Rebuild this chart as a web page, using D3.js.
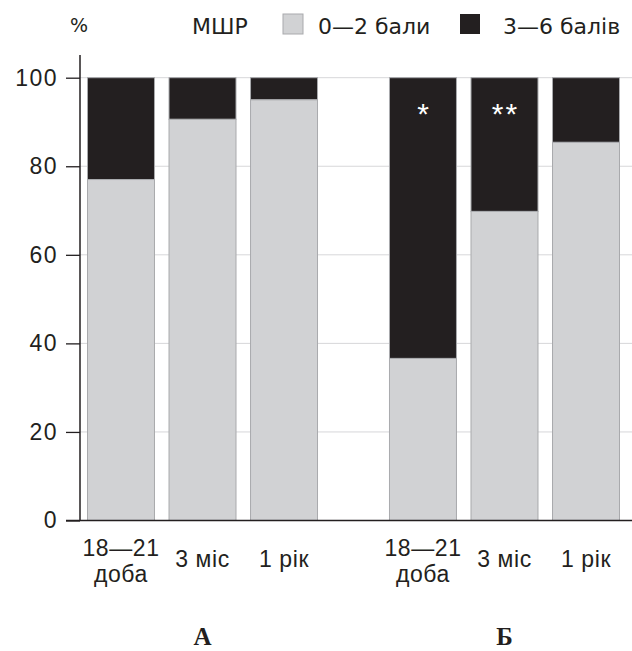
<!DOCTYPE html>
<html><head><meta charset="utf-8">
<script src="https://cdn.jsdelivr.net/npm/d3@7"></script>
<style>body{margin:0;background:#fff}svg{display:block}</style>
</head><body>
<script>
const groups = ["А", "Б"];
const periods = ["18—21 доба", "3 міс", "1 рік"];
const lowScore = [[77.0, 90.6, 95.0], [36.6, 69.8, 85.4]]; // 0—2 бали, %
const marks = [["", "", ""], ["*", "**", ""]];
const yTicks = [0, 20, 40, 60, 80, 100];
const legendLabels = ["0—2 бали", "3—6 балів"];

const W = 632, H = 651;
const svg = d3.select("body").append("svg").attr("width", W).attr("height", H);
const light = "#d1d2d4", dark = "#231f20", edge = "#a9aaad";
const tickFont = "Liberation Sans, Arial, sans-serif";
const legFont = "DejaVu Sans, sans-serif";

const y = d3.scaleLinear().domain([0, 100]).range([520.5, 77.7]);
const xg = d3.scaleBand().domain(groups).range([87, 620]).paddingInner(0.235).paddingOuter(0);
const xp = d3.scaleBand().domain(periods).range([0, xg.bandwidth()]).paddingInner(0.166).paddingOuter(0);

// gridlines
svg.append("g").selectAll("line").data(yTicks.filter(d => d > 0)).join("line")
  .attr("x1", 80).attr("x2", W).attr("y1", d => y(d)).attr("y2", d => y(d))
  .attr("stroke", "#d7d7d9").attr("stroke-width", 1);

// bars
const rows = [];
groups.forEach((g, gi) => periods.forEach((p, pi) => rows.push({g, p, v: lowScore[gi][pi], m: marks[gi][pi]})));
const bars = svg.append("g");
bars.selectAll("rect.dark").data(rows).join("rect").attr("class", "dark")
  .attr("x", d => xg(d.g) + xp(d.p) + 0.5).attr("width", xp.bandwidth() - 1)
  .attr("y", y(100)).attr("height", d => y(d.v) - y(100))
  .attr("fill", dark).attr("stroke", edge).attr("stroke-width", 1);
bars.selectAll("rect.light").data(rows).join("rect").attr("class", "light")
  .attr("x", d => xg(d.g) + xp(d.p) + 0.5).attr("width", xp.bandwidth() - 1)
  .attr("y", d => y(d.v)).attr("height", d => y(0) - y(d.v))
  .attr("fill", light).attr("stroke", edge).attr("stroke-width", 1);
bars.selectAll("text.mark").data(rows.filter(d => d.m)).join("text")
  .attr("x", d => xg(d.g) + xp(d.p) + xp.bandwidth() / 2 + 1).attr("y", y(100) + 46)
  .attr("text-anchor", "middle").attr("fill", "#fff").attr("letter-spacing", 2)
  .attr("font-family", tickFont).attr("font-size", 30).text(d => d.m);

// y axis
const yAxis = svg.append("g").attr("transform", "translate(80,0)")
  .call(d3.axisLeft(y).tickValues(yTicks).tickSize(14).tickPadding(8));
yAxis.select(".domain").remove();
yAxis.selectAll(".tick line").attr("stroke", "#231f20").attr("stroke-width", 1.3);
yAxis.selectAll(".tick text").attr("font-family", tickFont).attr("font-size", 23)
  .attr("letter-spacing", 1.5).attr("fill", "#231f20");
svg.append("line").attr("x1", 80).attr("x2", 80).attr("y1", 55).attr("y2", y(0))
  .attr("stroke", "#231f20").attr("stroke-width", 1.5);
svg.append("line").attr("x1", 66).attr("x2", W).attr("y1", y(0)).attr("y2", y(0))
  .attr("stroke", "#231f20").attr("stroke-width", 1.5);

// x labels
const xl = svg.append("g");
rows.forEach(d => {
  const cx = xg(d.g) + xp(d.p) + xp.bandwidth() / 2;
  const parts = d.p.split(" ");
  const t = xl.append("text").attr("text-anchor", "middle").attr("font-family", tickFont)
    .attr("font-size", 23).attr("letter-spacing", 0.6).attr("fill", "#231f20");
  if (d.p.includes("—")) {
    t.append("tspan").attr("x", cx).attr("y", 556).text(parts[0]);
    t.append("tspan").attr("x", cx).attr("y", 582).text(parts.slice(1).join(" "));
  } else {
    t.attr("x", cx).attr("y", 567).text(d.p);
  }
});
// group labels
svg.append("g").selectAll("text").data(groups).join("text")
  .attr("x", d => xg(d) + xg.bandwidth() / 2).attr("y", 645)
  .attr("text-anchor", "middle").attr("font-family", "Liberation Serif, Times New Roman, serif")
  .attr("font-weight", "bold").attr("font-size", 25).attr("fill", "#231f20").text(d => d);

// legend
const lg = svg.append("g").attr("font-family", legFont).attr("font-size", 22).attr("fill", "#231f20");
lg.append("text").attr("x", 79).attr("y", 32).attr("text-anchor", "middle").attr("font-size", 19).text("%");
lg.append("text").attr("x", 192).attr("y", 34).text("МШР");
const legX = [283, 460], legTX = [318, 503], legC = [light, dark];
legendLabels.forEach((l, i) => {
  lg.append("rect").attr("x", legX[i]).attr("y", 14).attr("width", 20).attr("height", 20)
    .attr("fill", legC[i]).attr("stroke", i === 0 ? edge : "none");
  lg.append("text").attr("x", legTX[i]).attr("y", 34).text(l);
});
</script>
</body></html>
